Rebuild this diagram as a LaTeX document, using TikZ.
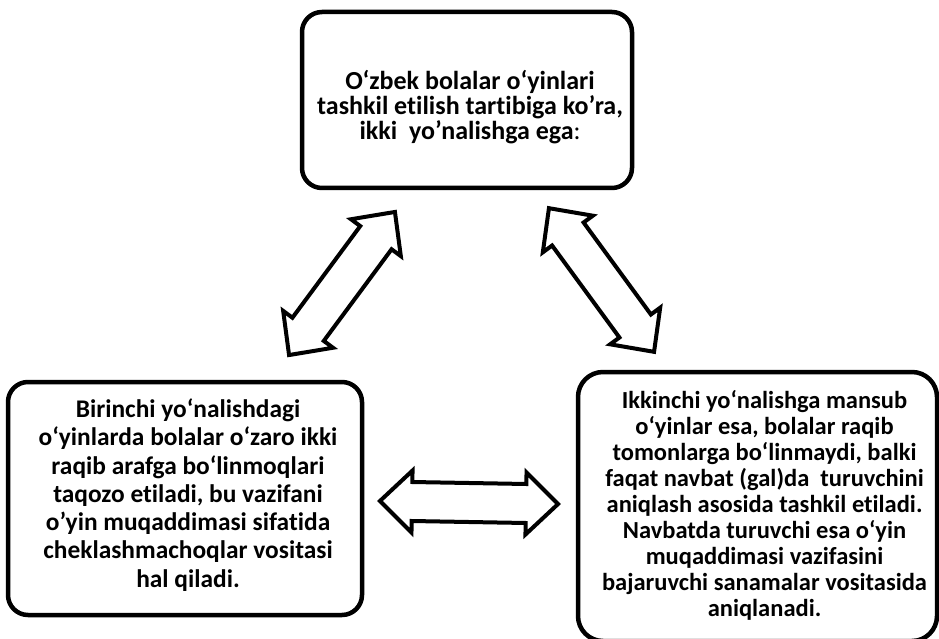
\documentclass[tikz,border=0pt]{standalone}
\usepackage{fontspec}
\setmainfont{Carlito}[Ligatures=NoCommon]
\begin{document}
\begin{tikzpicture}[x=1pt,y=1pt,
  box/.style={draw=black, line width=4.5pt, rounded corners=20pt, fill=white, inner sep=0pt},
  boxtext/.style={align=center, inner sep=0pt},
  dblarrow/.pic={
    \draw[line width=4pt, line join=miter, fill=white]
      (-89,0) -- (-57,31) -- (-57,19.5) -- (57,19.5) -- (57,31) -- (89,0)
      -- (57,-31) -- (57,-19.5) -- (-57,-19.5) -- (-57,-31) -- cycle;
  }]
  \clip (0,0) rectangle (939,-639);
  \fill[white] (0,0) rectangle (939,-639);

  % the three boxes
  \node[box, minimum width=330pt, minimum height=176pt] (top) at (467,-100) {};
  \node[box, minimum width=354pt, minimum height=233pt] (first) at (185,-498.5) {};
  \node[box, rounded corners=25pt, minimum width=359pt, minimum height=269pt] (second) at (757.5,-506.5) {};

  % their texts
  \node[boxtext, font=\bfseries\fontsize{26}{25}\selectfont] (topText) at ([xshift=3pt,yshift=-7pt]top.center)
    {O‘zbek bolalar o‘yinlari\\ tashkil etilish tartibiga ko’ra,\\ ikki\ \ yo’nalishga ega\textmd{:}};
  \node[boxtext, font=\bfseries\fontsize{25.4}{28.3}\selectfont] (firstText) at ([xshift=3pt,yshift=3.5pt]first.center)
    {Birinchi yo‘nalishdagi\\ o‘yinlarda bolalar o‘zaro ikki\\ raqib arafga bo‘linmoqlari\\ taqozo etiladi, bu vazifani\\ o’yin muqaddimasi sifatida\\ cheklashmachoqlar vositasi\\ hal qiladi.};
  \node[boxtext, font=\bfseries\fontsize{24.5}{26}\selectfont] (secondText) at ([xshift=7pt,yshift=1pt]second.center)
    {Ikkinchi yo‘nalishga mansub\\ o‘yinlar esa, bolalar raqib\\ tomonlarga bo‘linmaydi, balki\\ faqat navbat (gal)da\ \ turuvchini\\ aniqlash asosida tashkil etiladi.\\ Navbatda turuvchi esa o‘yin\\ muqaddimasi vazifasini\\ bajaruvchi sanamalar vositasida\\ aniqlanadi.};

  % two-way block arrows between the boxes
  \coordinate (linkA) at (342,-283.5);
  \coordinate (linkB) at (601.5,-280);
  \coordinate (linkC) at (469,-502.5);
  \pic[rotate=53.5] at (linkA) {dblarrow};
  \pic[rotate=126.2] at (linkB) {dblarrow};
  \pic[rotate=-1] at (linkC) {dblarrow};
\end{tikzpicture}
\end{document}
